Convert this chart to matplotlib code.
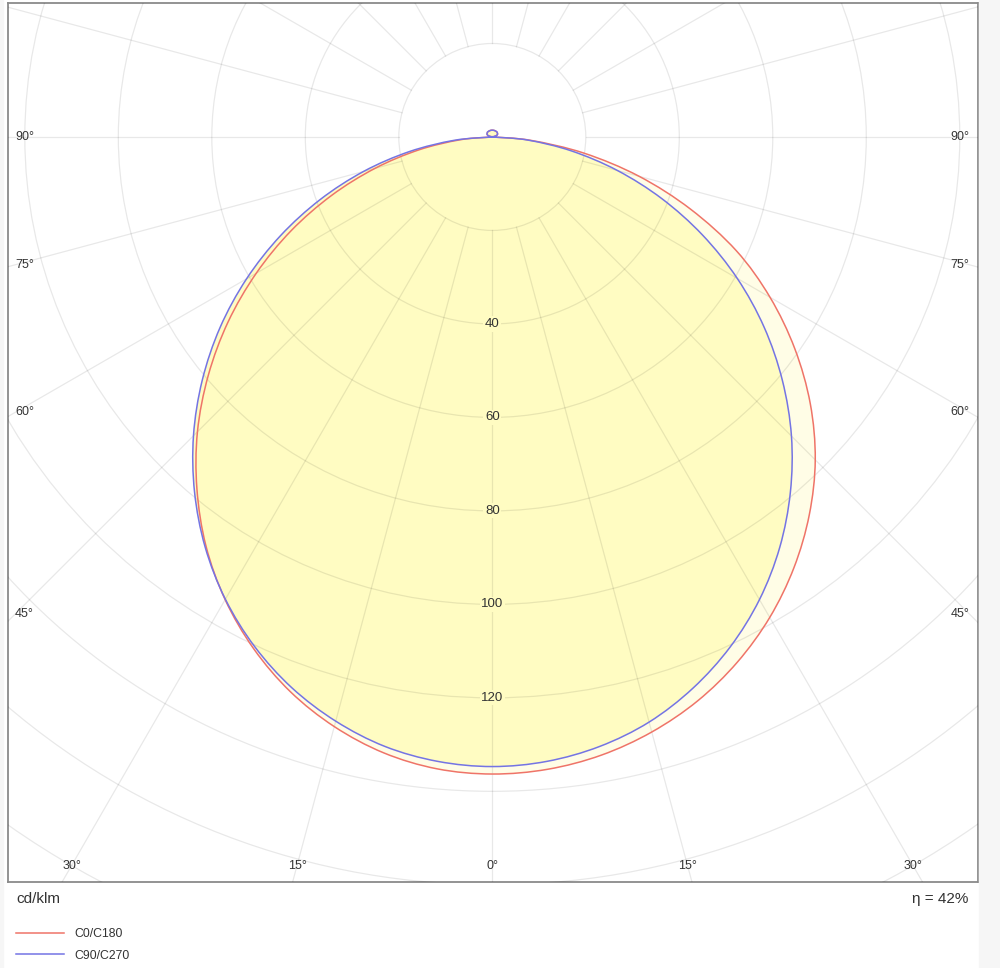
import numpy as np
import matplotlib.pyplot as plt
from matplotlib.patches import Circle, Rectangle, PathPatch
from matplotlib.path import Path
from matplotlib.lines import Line2D

plt.rcParams['font.family'] = ['Liberation Sans', 'DejaVu Sans']

# gamma angles (deg) and luminous intensity in cd/klm for the four C-planes
gamma = np.arange(0, 185, 5)
c0 = [136.3, 135.8, 134.3, 131.8, 128.4, 124.0, 118.7, 112.5, 105.5, 97.7,
      88.8, 79.0, 68.6, 57.6, 45.1, 32.5, 19.9, 8.2, 0.0,
      0.0, 0.3, 0.7, 1.0, 1.2, 1.3, 1.35, 1.4, 1.45, 1.45,
      1.45, 1.45, 1.45, 1.45, 1.45, 1.45, 1.45, 1.45]
c180 = [136.3, 135.7, 133.8, 130.6, 126.3, 120.8, 114.3, 106.8, 98.3, 89.2,
        79.3, 69.0, 58.3, 47.5, 36.6, 26.0, 16.0, 6.9, 0.0,
        0.0, 0.3, 0.7, 1.0, 1.2, 1.3, 1.35, 1.4, 1.45, 1.45,
        1.45, 1.45, 1.45, 1.45, 1.45, 1.45, 1.45, 1.45]
c90 = [134.7, 134.1, 132.4, 129.6, 125.5, 120.4, 114.3, 107.2, 99.2, 90.5,
       81.0, 71.0, 60.5, 49.6, 38.6, 27.7, 17.2, 7.6, 0.0,
       0.0, 0.3, 0.7, 1.0, 1.2, 1.3, 1.35, 1.4, 1.45, 1.45,
       1.45, 1.45, 1.45, 1.45, 1.45, 1.45, 1.45, 1.45]
c270 = [134.7, 134.1, 132.4, 129.4, 125.4, 120.3, 114.2, 107.1, 99.1, 90.4,
        81.0, 71.1, 60.7, 50.0, 39.2, 28.5, 18.0, 8.1, 0.0,
        0.0, 0.3, 0.7, 1.0, 1.2, 1.3, 1.35, 1.4, 1.45, 1.45,
        1.45, 1.45, 1.45, 1.45, 1.45, 1.45, 1.45, 1.45]

ring_values = [40, 60, 80, 100, 120]
angle_ticks = [0, 15, 30, 45, 60, 75, 90]
legend_labels = ['C0/C180', 'C90/C270']
efficiency = 'η = 42%'
unit = 'cd/klm'

RED = '#ef7468'
BLUE = '#7474e4'
FILL_MAIN = '#fffcc2'
FILL_LIGHT = '#fffde6'
GRID = (0, 0, 0, 0.09)
TXT = '#333333'


def plane(right, left):
    g = np.radians(gamma)
    r = np.asarray(right, float)
    l = np.asarray(left, float)
    x = np.concatenate([r * np.sin(g), -l[::-1] * np.sin(g[::-1])])
    y = np.concatenate([-r * np.cos(g), -l[::-1] * np.cos(g[::-1])])
    return x, y


def smooth_closed(x, y):
    # closed curve drawn as Catmull-Rom style bezier through the data points
    pts = np.column_stack([x, y])
    keep = [pts[0]]
    for p in pts[1:]:
        if np.hypot(*(p - keep[-1])) > 1e-6:
            keep.append(p)
    if np.hypot(*(keep[-1] - keep[0])) < 1e-6:
        keep.pop()
    pts = np.array(keep)
    n = len(pts)
    verts = [pts[0]]
    codes = [Path.MOVETO]
    for i in range(n):
        p0, p1, p2, p3 = pts[i - 1], pts[i], pts[(i + 1) % n], pts[(i + 2) % n]
        verts += [p1 + (p2 - p0) / 6, p2 - (p3 - p1) / 6, p2]
        codes += [Path.CURVE4] * 3
    return Path(verts, codes)


fig = plt.figure(figsize=(10, 9.68), dpi=100)
fig.patches.append(Rectangle((979 / 1000, 0), 21 / 1000, 1, transform=fig.transFigure,
                             color='#f6f6f6', zorder=0))
fig.patches.append(Rectangle((0, 0), 3 / 1000, 1, transform=fig.transFigure,
                             color='#f6f6f6', zorder=0))

ax = fig.add_axes([0.008, 1 - 882 / 968, 0.970, 879 / 968])
ax.set_xlim(-103.6, 103.9)
ax.set_ylim(-159.4, 28.66)
ax.set_xticks([])
ax.set_yticks([])
for s in ax.spines.values():
    s.set_color('#8a8a8a')
    s.set_linewidth(1.3)

path_r = smooth_closed(*plane(c0, c180))
path_b = smooth_closed(*plane(c90, c270))
ax.add_patch(PathPatch(path_r, fc=FILL_LIGHT, ec='none', zorder=1))
ax.add_patch(PathPatch(path_b, fc=FILL_MAIN, ec='none', zorder=2))

# polar grid
for r in range(20, 240, 20):
    ax.add_patch(Circle((0, 0), r, fill=False, ec=GRID, lw=0.9, zorder=3))
for a in range(0, 360, 15):
    t = np.radians(a)
    ax.plot([20 * np.sin(t), 300 * np.sin(t)], [-20 * np.cos(t), -300 * np.cos(t)],
            color=GRID, lw=0.9, zorder=3)

ax.add_patch(PathPatch(path_r, fc='none', ec=RED, lw=1.1, zorder=4))
ax.add_patch(PathPatch(path_b, fc='none', ec=BLUE, lw=1.1, zorder=4))

for v in ring_values:
    ax.text(0, -v, str(v), ha='center', va='center', fontsize=9.5, color=TXT, zorder=5,
            bbox=dict(boxstyle='square,pad=0.12', fc=FILL_MAIN, ec='none'))

# angle labels along the frame
x_in = 102.1
y_bot = -155.9
for a in angle_ticks:
    t = np.radians(a)
    if a >= 45:
        yy = -x_in / np.tan(t) if a < 90 else 0.0
        ax.text(-x_in, yy, f'{a}°', ha='left', va='center', fontsize=9, color=TXT, zorder=5)
        ax.text(x_in, yy, f'{a}°', ha='right', va='center', fontsize=9, color=TXT, zorder=5)
    else:
        xx = -y_bot * np.tan(t)
        ax.text(xx, y_bot, f'{a}°', ha='center', va='center', fontsize=9, color=TXT, zorder=5)
        if a > 0:
            ax.text(-xx, y_bot, f'{a}°', ha='center', va='center', fontsize=9, color=TXT, zorder=5)

fig.text(16 / 1000, 1 - 899 / 968, unit, ha='left', va='center', fontsize=11, color=TXT)
fig.text(968 / 1000, 1 - 899 / 968, efficiency, ha='right', va='center', fontsize=11, color=TXT)

handles = [Line2D([], [], color=RED, lw=1.1), Line2D([], [], color=BLUE, lw=1.1)]
fig.legend(handles, legend_labels, loc='upper left',
           bbox_to_anchor=(16 / 1000, 1 - 928 / 968), frameon=False, fontsize=8.8,
           handlelength=3.95, handletextpad=0.8, borderpad=0, borderaxespad=0,
           labelspacing=0.78, labelcolor=TXT)

fig.savefig('out.png', dpi=100, facecolor='white')
